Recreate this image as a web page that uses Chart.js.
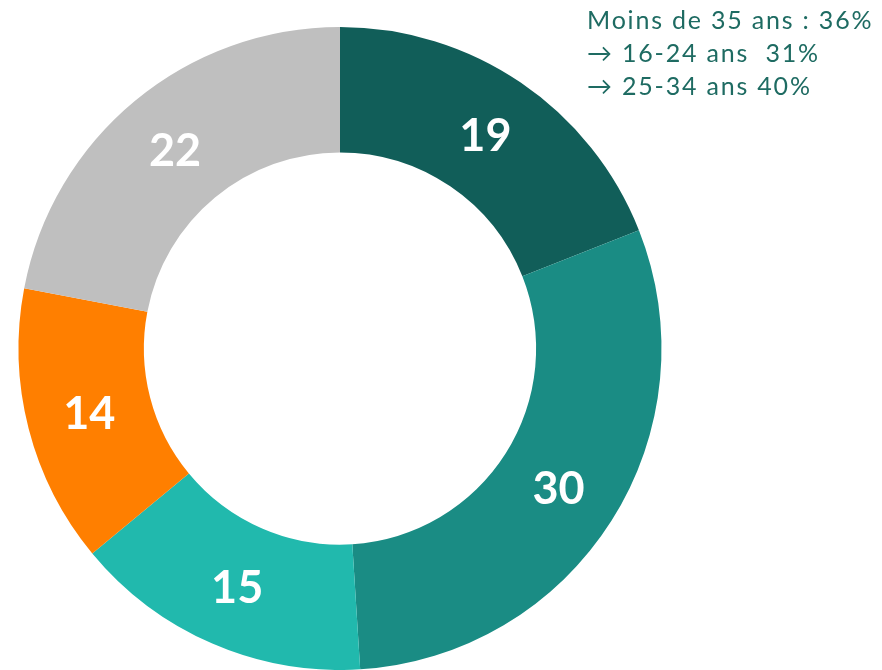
<!DOCTYPE html>
<html>
<head>
<meta charset="utf-8">
<script src="https://cdn.jsdelivr.net/npm/chart.js@4"></script>
<style>
  html, body { margin: 0; padding: 0; background: #fff; }
  #wrap { position: relative; width: 882px; height: 670px; }
  #note {
    position: absolute; left: 587px; top: 3px;
    font-family: "Lato", "Noto Sans", sans-serif; font-size: 25px;
    letter-spacing: 1.8px;
    line-height: 33px; color: #1E6B62; white-space: pre;
  }
</style>
</head>
<body>
<div id="wrap">
  <canvas id="chart" width="882" height="670"></canvas>
  <div id="note">Moins de 35 ans : 36%
→ 16-24 ans  31%
→ 25-34 ans 40%</div>
</div>
<script>
const categories = ['Segment 1', 'Segment 2', 'Segment 3', 'Segment 4', 'Segment 5'];
const values = [19, 30, 15, 14, 22];
const colors = ['#115E59', '#1A8C84', '#21B9AD', '#FF7F00', '#BFBFBF'];

// étiquettes blanches au milieu de chaque part
const sliceLabels = {
  id: 'sliceLabels',
  afterDatasetsDraw(chart) {
    const ctx = chart.ctx;
    const meta = chart.getDatasetMeta(0);
    ctx.save();
    ctx.fillStyle = '#fff';
    ctx.font = 'bold 45px "Lato", "Noto Sans", sans-serif';
    ctx.textAlign = 'center';
    ctx.textBaseline = 'middle';
    meta.data.forEach((arc, i) => {
      const p = arc.tooltipPosition();
      ctx.fillText(String(values[i]), p.x, p.y + 2);
    });
    ctx.restore();
  }
};

new Chart(document.getElementById('chart'), {
  type: 'doughnut',
  data: {
    labels: categories,
    datasets: [{
      data: values,
      backgroundColor: colors,
      borderWidth: 0
    }]
  },
  options: {
    responsive: false,
    animation: false,
    cutout: '61%',
    layout: { padding: { left: 18, top: 27, right: 220, bottom: 0 } },
    plugins: { legend: { display: false }, tooltip: { enabled: false } }
  },
  plugins: [sliceLabels]
});
</script>
</body>
</html>
